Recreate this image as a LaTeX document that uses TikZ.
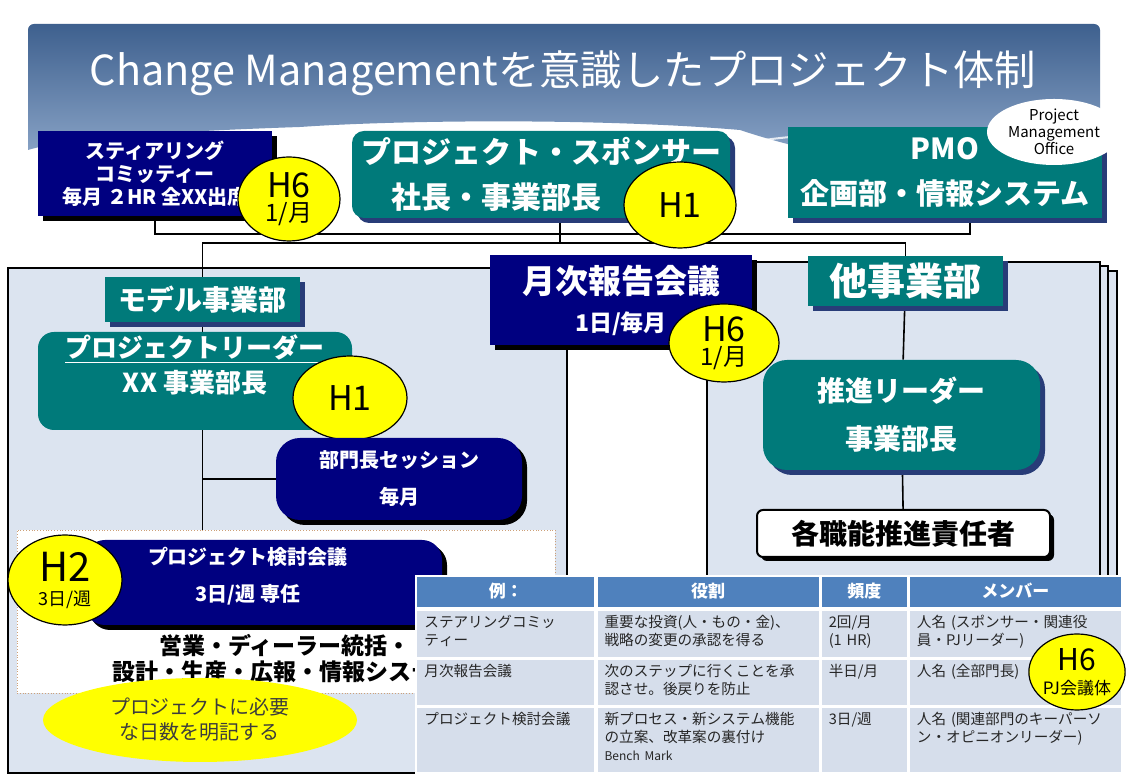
\documentclass[tikz,border=0pt]{standalone}
\usepackage{fontspec}
\setmainfont{Noto Sans CJK JP}
\usetikzlibrary{matrix,positioning,calc,shapes.geometric,shadows,backgrounds}
\XeTeXlinebreaklocale "ja"
\XeTeXlinebreakskip=0pt

\newcommand{\fsz}[2]{\fontsize{#1}{#2}\selectfont}

\definecolor{navyfill}{RGB}{0,0,128}
\definecolor{tealfill}{RGB}{0,122,122}
\definecolor{tealshade}{RGB}{40,60,120}
\definecolor{panelfill}{RGB}{220,228,240}
\definecolor{hilite}{RGB}{255,255,0}
\definecolor{headfill}{RGB}{79,129,189}
\definecolor{cellfill}{RGB}{214,222,235}
\definecolor{bannertop}{RGB}{62,96,142}
\definecolor{bannerlow}{RGB}{150,175,208}
\definecolor{dotline}{RGB}{205,160,120}
\definecolor{notetext}{RGB}{60,60,60}

\begin{document}
\begin{tikzpicture}[x=0.5pt, y=-0.5pt,
    wire/.style={draw=black, line width=0.8pt},
    box/.style={rectangle, inner sep=0, text=white, font=\bfseries, align=center},
    navybox/.style={box, fill=navyfill,
      general shadow={fill=black, shadow xshift=2.5pt, shadow yshift=-2.5pt}},
    tealbox/.style={box, fill=tealfill,
      general shadow={fill=tealshade, shadow xshift=2.5pt, shadow yshift=-2.5pt}},
    bubble/.style={ellipse, draw=black, fill=hilite, inner sep=0, align=center,
      line width=0.6pt},
    panel/.style={draw=black, line width=1.4pt, fill=panelfill}]
  \useasboundingbox (0,0) rectangle (1126,779);

  % title
  \node[font=\fsz{20.7}{24}, text=white] (title) at (563,73)
    {Change Managementを意識したプロジェクト体制};

  % top row
  \node[navybox, minimum width=117pt, minimum height=42.5pt,
    font=\bfseries\fsz{10}{11.5}] (steer) at (155,173.5)
    {スティアリング\\コミッティー\\毎月 ２HR 全XX出席};
  \node[bubble, minimum width=51pt, minimum height=42pt] (h6steer) at (289,199)
    {{\fsz{17}{17}H6}\\{\fsz{12}{12}1/月}};
  \node[tealbox, rounded corners=6pt, minimum width=189pt, minimum height=43.5pt,
    font=\bfseries\fsz{15}{22.5}] (sponsor) at (541,174.5)
    {プロジェクト・スポンサー\\社長・事業部長\hspace*{45pt}};
  \node[bubble, minimum width=56pt, minimum height=43pt] (h1top) at (680,205)
    {\fsz{17}{17}H1};
  \node[tealbox, minimum width=157pt, minimum height=45.5pt,
    font=\bfseries\fsz{14.5}{22.5}] (pmo) at (945,172.5)
    {PMO\\企画部・情報システム};
  \node[ellipse, fill=white, minimum width=67pt, minimum height=33pt, inner sep=0,
    align=center, font=\fsz{7.5}{8.5}] (pmonote) at (1054,132)
    {Project\\Management\\Office};

  % monthly meeting
  \node[navybox, minimum width=131pt, minimum height=45pt] (monthly) at (621,300)
    {{\fsz{16.5}{16.5}月次報告会議}\\[7pt]{\fsz{11.5}{11.5}1日/毎月}};
  \node[bubble, minimum width=55pt, minimum height=39pt] (h6month) at (724,343)
    {{\fsz{17}{17}H6}\\{\fsz{12}{12}1/月}};

  % other divisions
  \node[tealbox, minimum width=97.5pt, minimum height=25pt,
    font=\bfseries\fsz{19}{19}] (other) at (905.5,281) {他事業部};
  \node[tealbox, rounded corners=12pt, minimum width=138.5pt, minimum height=55pt,
    font=\bfseries\fsz{14}{24}] (promo) at (901.5,415) {推進リーダー\\事業部長};
  \node[box, fill=white, draw=black, line width=1pt, text=black, rounded corners=3pt,
    general shadow={fill=black, shadow xshift=2pt, shadow yshift=-2pt},
    minimum width=146.5pt, minimum height=23.5pt,
    font=\bfseries\fsz{14}{14}] (func) at (903.5,533.5) {各職能推進責任者};

  % model division
  \node[tealbox, minimum width=97.5pt, minimum height=22.5pt,
    font=\bfseries\fsz{14}{14}] (model) at (202.5,299.5) {モデル事業部};
  \node[box, fill=tealfill, rounded corners=8pt, minimum width=157pt,
    minimum height=49pt, font=\bfseries\fsz{13}{17.5}] (leader) at (195,381)
    {\underline{プロジェクトリーダー}\\XX 事業部長\\\mbox{}};
  \node[bubble, minimum width=57pt, minimum height=42pt] (h1leader) at (350,398)
    {\fsz{17}{17}H1};
  \node[navybox, rounded corners=12pt, minimum width=123pt, minimum height=41pt,
    font=\bfseries\fsz{10}{18.5}] (heads) at (399,479) {部門長セッション\\毎月};

  \node[draw=dotline, densely dotted, fill=white, minimum width=269pt,
    minimum height=81.5pt, inner sep=0] (staff) at (286,611.5) {};
  \begin{scope}
    \clip (17,530) rectangle (415,693);
    \node[font=\bfseries\fsz{11.5}{13}, align=center] (stafftext) at (285,659)
      {営業・ディーラー統括・\\設計・生産・広報・情報システム};
  \end{scope}
  \node[navybox, rounded corners=10pt, minimum width=178.5pt,
    minimum height=42.5pt,
    general shadow={fill=black, shadow xshift=2pt, shadow yshift=-2pt}]
    (review) at (263.5,582.5) {};
  \node[text=white, font=\bfseries\fsz{10}{18.5}, align=center] (reviewtext)
    at (248,576) {プロジェクト検討会議\\3日/週 専任};
  \node[bubble, minimum width=57pt, minimum height=45pt] (h2) at (65,580)
    {{\fsz{20}{20}H2}\\{\fsz{9}{9}3日/週}};

  \node[ellipse, fill=hilite, minimum width=157pt, minimum height=42pt, inner sep=0,
    align=center, text=notetext, font=\fsz{10}{12.5}] (note) at (200,720)
    {プロジェクトに必要\\な日数を明記する};

  % example table
  \matrix (roles) [matrix of nodes, anchor=north west, inner sep=0,
    row sep=-\pgflinewidth, column sep=-\pgflinewidth,
    nodes={draw=white, line width=1pt, fill=cellfill, inner xsep=4pt,
      inner ysep=2pt, align=left, text height=7pt, text=black!85,
      font=\fsz{7.3}{9}},
    column 1/.style={nodes={text width=81.5pt}},
    column 2/.style={nodes={text width=103.5pt}},
    column 3/.style={nodes={text width=35.5pt}},
    column 4/.style={nodes={text width=98.5pt}},
    row 1/.style={nodes={fill=headfill, text=white, align=center,
      font=\bfseries\fsz{8.5}{9}, text height=8.5pt, text depth=3.5pt}},
    row 2/.style={nodes={text depth=13pt}},
    row 3/.style={nodes={text depth=12.5pt}},
    row 4/.style={nodes={text depth=22pt}}] at (415,575) {
    例： & 役割 & 頻度 & メンバー \\
    ステアリングコミッ\newline ティー & 重要な投資(人・もの・金)、\newline 戦略の変更の承認を得る
      & 2回/月\newline (1 HR) & 人名 (スポンサー・関連役\newline 員・PJリーダー) \\
    月次報告会議 & 次のステップに行くことを承\newline 認させ。後戻りを防止
      & 半日/月 & 人名 (全部門長) \\
    プロジェクト検討会議 & 新プロセス・新システム機能\newline の立案、改革案の裏付け\newline {\fsz{6}{9}Bench Mark}
      & 3日/週 & 人名 (関連部門のキーパーソ\newline ン・オピニオンリーダー) \\
  };
  \node[bubble, minimum width=47pt, minimum height=38pt] (h6table) at (1077,672)
    {{\fsz{15}{15}H6}\\{\fsz{8.5}{8.5}PJ会議体}};

  \begin{scope}[on background layer]
    \fill[white] (0,0) rectangle (1126,779);
    % banner
    \shade[top color=bannertop, bottom color=bannerlow]
      (34,24) -- (1094,24) to[out=0,in=90] (1100,30) -- (1100,178)
      .. controls (900,175) and (800,150) .. (740,130)
      .. controls (600,118) and (400,120) .. (300,127)
      .. controls (150,132) and (60,140) .. (28,150)
      -- (28,30) to[out=90,in=180] cycle;
    \draw[white, opacity=.8, line width=1pt] (720,150) .. controls (760,140) .. (800,136);
    \draw[white, opacity=.8, line width=1pt] (725,165) .. controls (760,160) .. (800,158);
    % panels
    \draw[panel] (724,271) rectangle (1117,772);
    \draw[panel] (716,266) rectangle (1108,772);
    \draw[panel] (707,262) rectangle (1100,772);
    \draw[panel] (8,268) rectangle (567,773);
    % connectors
    \coordinate (bus1) at (560,234);
    \coordinate (bus2) at (560,243);
    \draw[wire] (steer.south) |- (bus1) -| ([xshift=12.5pt]pmo.south);
    \draw[wire] ([xshift=9.5pt]sponsor.south) -- (bus2);
    \draw[wire] (model.north) |- (bus2) -| (other.north);
    \draw[wire] (model.south) -- (model.south |- review.north);
    \draw[wire] (heads.west) -- (heads.west -| model.south);
    \draw[wire] (other) -- (promo) -- (func);
  \end{scope}
\end{tikzpicture}
\end{document}
